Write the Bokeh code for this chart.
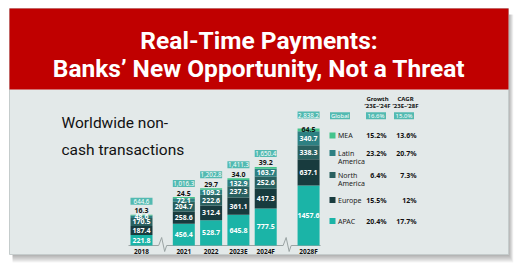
import numpy as np
from bokeh.plotting import figure
from bokeh.models import Range1d, ColumnDataSource
from bokeh.embed import file_html
from bokeh.resources import INLINE
from bokeh.core.properties import value

# ---------------- data ----------------
years = ["2018", "2021", "2022", "2023E", "2024F", "2028F"]
apac = [221.8, 456.4, 528.7, 645.8, 777.5, 1457.6]
europe = [187.4, 258.6, 312.4, 361.1, 417.3, 637.1]
north_america = [170.5, 204.7, 222.6, 237.3, 252.6, 338.3]
latin_america = [48.6, 72.1, 109.2, 132.9, 163.7, 340.7]
mea = [16.3, 24.5, 29.7, 34.0, 39.2, 64.5]
totals = [644.6, 1016.3, 1202.8, 1411.3, 1650.4, 2838.2]

legend_regions = ["MEA", "Latin\nAmerica", "North\nAmerica", "Europe", "APAC"]
growth_23_24 = ["15.2%", "23.2%", "6.4%", "15.5%", "20.4%"]
cagr_23_28 = ["13.6%", "20.7%", "7.3%", "12%", "17.7%"]
global_growth = "16.6%"
global_cagr = "15.0%"

title_lines = ["Real-Time Payments:", "Banks\u2019 New Opportunity, Not a Threat"]
subtitle_lines = ["Worldwide non-", "cash transactions"]

# ---------------- layout / style ----------------
W, H = 520, 272
BASE_PX = 245          # baseline pixel row (from top)
K_MAIN = 0.0476        # px per unit, 2018-2024F
K_2028 = 0.0412        # px per unit, 2028F (broken scale)
X0, STEP = 141, 27.3
SLOTS = [0, 1.55, 2.55, 3.55, 4.55, 6.12]
BAR_W = 22
MEA_GAP = [4, 4, 4, 4, 4, -1]
BOX_GAP = 13.5

C_APAC = "#1bb4a7"
C_EUR = "#183b3e"
C_NA = "#29605f"
C_LAT = "#2d8082"
C_MEA = "#44c48c"
C_BOX = "#53bab1"
RED = "#c00000"
BODY = "#e3e9e9"
FONT = "Noto Sans"
TFONT = "Roboto"

xpos = [X0 + STEP * s for s in SLOTS]

p = figure(width=W, height=H, x_range=Range1d(0, W),
           y_range=Range1d(-(H - BASE_PX) / K_MAIN, BASE_PX / K_MAIN),
           x_axis_type=None, y_axis_type=None, toolbar_location=None,
           output_backend="svg", min_border=0)
p.extra_y_ranges = {"px": Range1d(H, 0),
                    "y28": Range1d(-(H - BASE_PX) / K_2028, BASE_PX / K_2028)}
p.outline_line_color = None
p.background_fill_color = "white"
p.border_fill_color = "white"
p.grid.visible = False

# ---------------- card ----------------
for i in range(1, 9):
    p.quad(left=12, right=508 + i * 0.6, top=14, bottom=254 + i,
           fill_color="black", fill_alpha=0.045, line_color=None, y_range_name="px")
p.quad(left=9, right=508, top=8, bottom=254, fill_color=BODY,
       line_color="#c5cccc", line_width=1, y_range_name="px")
p.quad(left=9, right=508, top=8, bottom=89, fill_color=RED,
       line_color=None, y_range_name="px")

p.text(x=[258.5, 258.5], y=[40, 68], text=title_lines, text_font=value(TFONT),
       text_font_style="bold", text_font_size="24.5px", text_color="white",
       text_align="center", text_baseline="alphabetic", y_range_name="px")
p.text(x=[61, 61], y=[122, 149], text=subtitle_lines, text_font=value(TFONT),
       text_font_size="15.5px", text_color="#111111",
       text_align="left", text_baseline="alphabetic", y_range_name="px")

# ---------------- axis with breaks ----------------
brk1 = (xpos[0] + xpos[1]) / 2
brk2 = (xpos[4] + xpos[5]) / 2
ax_x = [xpos[0] - 13, brk1 - 4, brk1 - 1, brk1 + 2, brk1 + 4,
        brk2 - 4, brk2 - 1, brk2 + 2, brk2 + 4, xpos[5] + 12]
ax_y = [BASE_PX, BASE_PX, BASE_PX - 8, BASE_PX + 6, BASE_PX,
        BASE_PX, BASE_PX - 8, BASE_PX + 6, BASE_PX, BASE_PX]
p.line(ax_x, ax_y, line_color="#9aa3a3", line_width=1, y_range_name="px")

p.text(x=xpos, y=[251] * len(years), text=years, text_font=value(FONT),
       text_font_style="bold", text_font_size="6.5px", text_color="#111111",
       text_align="center", text_baseline="middle", y_range_name="px")

# ---------------- bars ----------------
stack_cols = ["apac", "europe", "na", "lat", "mea"]
colors = [C_APAC, C_EUR, C_NA, C_LAT, C_MEA]


def draw(idx, yname, k):
    d = dict(x=[xpos[i] for i in idx],
             apac=[apac[i] for i in idx], europe=[europe[i] for i in idx],
             na=[north_america[i] for i in idx], lat=[latin_america[i] for i in idx],
             mea=[mea[i] for i in idx], total=[totals[i] for i in idx])
    src = ColumnDataSource(d)
    p.vbar_stack(stack_cols, x="x", width=BAR_W, color=colors, line_color=None,
                 source=src, y_range_name=yname)
    arr = np.array([d[c] for c in stack_cols[:4]])
    cum = np.cumsum(arr, axis=0)
    mids = cum - arr / 2
    lx, ly, lt = [], [], []
    for r in range(4):
        for j in range(len(idx)):
            lx.append(d["x"][j]); ly.append(mids[r, j]); lt.append(f"{arr[r, j]:.1f}")
    p.text(x=lx, y=ly, text=lt, text_font=value(FONT), text_font_style="bold",
           text_font_size="7px", text_color="white", text_align="center",
           text_baseline="middle", y_range_name=yname)
    tot = np.array(d["total"])
    p.text(x=d["x"], y=list(tot + np.array([MEA_GAP[i] for i in idx]) / k),
           text=[f"{v:.1f}" for v in d["mea"]], text_font=value(FONT),
           text_font_style="bold", text_font_size="7px", text_color="#111111",
           text_align="center", text_baseline="middle", y_range_name=yname)
    by = list(tot + BOX_GAP / k)
    p.rect(x=d["x"], y=by, width=BAR_W, height=7, height_units="screen",
           fill_color=C_BOX, line_color=None, y_range_name=yname)
    p.text(x=d["x"], y=by, text=[f"{v:,.1f}" for v in tot], text_font=value(FONT),
           text_font_size="6.2px", text_color="white", text_align="center",
           text_baseline="middle", y_range_name=yname)


draw([0, 1, 2, 3, 4], "default", K_MAIN)
draw([5], "y28", K_2028)

# ---------------- legend table ----------------
row_y = [135, 152.5, 174.5, 199.5, 220.5]
sw_colors = [C_MEA, C_LAT, C_NA, C_EUR, C_APAC]
p.rect(x=[332] * 5, y=row_y, width=6, height=6, height_units="screen",
       fill_color=sw_colors, line_color=None, y_range_name="px")
lab_x, lab_y, lab_t = [], [], []
for name, yy in zip(legend_regions, row_y):
    for li, part in enumerate(name.split("\n")):
        lab_x.append(337.5); lab_y.append(yy + li * 8.5); lab_t.append(part)
p.text(x=lab_x, y=lab_y, text=lab_t, text_font=value(FONT), text_font_size="7px",
       text_color="#222222", text_align="left", text_baseline="middle", y_range_name="px")
p.text(x=[386] * 5, y=row_y, text=growth_23_24, text_font=value(FONT), text_font_style="bold",
       text_font_size="7px", text_color="#111111", text_align="right",
       text_baseline="middle", y_range_name="px")
p.text(x=[416] * 5, y=row_y, text=cagr_23_28, text_font=value(FONT), text_font_style="bold",
       text_font_size="7px", text_color="#111111", text_align="right",
       text_baseline="middle", y_range_name="px")

p.text(x=[377, 377, 405, 405], y=[98, 105, 98, 105],
       text=["Growth", "\u201923E\u2013\u201924F", "CAGR", "\u201923E\u2013\u201928F"],
       text_font=value(FONT), text_font_style="bold", text_font_size="6px",
       text_color="#111111", text_align="center", text_baseline="middle", y_range_name="px")

gx = [339.5, 375.5, 403.5]
p.rect(x=gx, y=[115.3] * 3, width=20, height=7, fill_color=C_BOX, line_color=None,
       y_range_name="px")
p.text(x=gx, y=[115.3] * 3, text=["Global", global_growth, global_cagr], text_font=value(FONT),
       text_font_size="6px", text_color="white", text_align="center",
       text_baseline="middle", y_range_name="px")

open("out.html", "w").write(file_html(p, INLINE))
